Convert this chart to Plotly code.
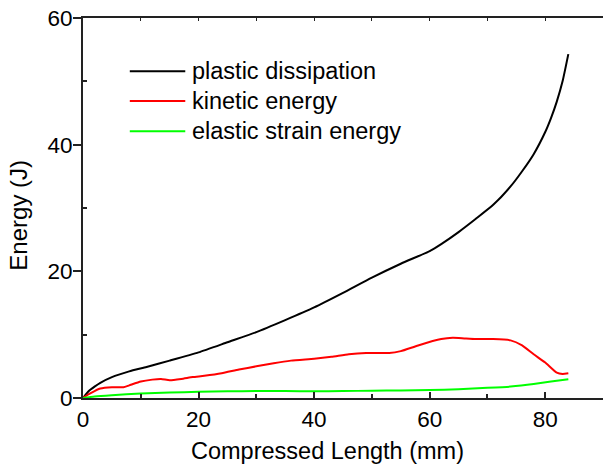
import plotly.graph_objects as go

# ---- data ----
plastic_x = [0, 1, 2, 3, 5, 8, 11, 15, 20, 25, 30, 35, 40, 45, 50, 55, 60, 62, 65, 68, 71, 74, 76, 78, 80, 81, 82, 83, 84]
plastic_y = [0, 1.1, 1.8, 2.4, 3.3, 4.2, 4.9, 5.9, 7.2, 8.8, 10.4, 12.3, 14.3, 16.6, 19.0, 21.2, 23.2, 24.3, 26.2, 28.3, 30.5, 33.4, 35.8, 38.5, 42.0, 44.2, 46.8, 50.0, 54.3]

kinetic_x = [0, 1, 2, 3, 5, 7, 8, 10, 12, 13.5, 15, 17, 19, 21, 24, 27, 30, 33, 36, 40, 43, 46, 49, 53, 55, 58, 62, 64, 66, 68, 71, 74, 76, 78, 80, 82, 83, 84]
kinetic_y = [0, 0.6, 1.1, 1.5, 1.7, 1.7, 2.0, 2.6, 2.9, 3.0, 2.8, 3.0, 3.3, 3.5, 3.9, 4.5, 5.0, 5.5, 5.9, 6.2, 6.5, 6.9, 7.1, 7.1, 7.4, 8.3, 9.3, 9.5, 9.4, 9.3, 9.3, 9.1, 8.3, 6.9, 5.6, 4.0, 3.8, 3.9]

elastic_x = [0, 2, 5, 10, 15, 20, 25, 30, 35, 40, 45, 50, 55, 60, 65, 70, 74, 78, 81, 84]
elastic_y = [0, 0.25, 0.45, 0.7, 0.85, 1.0, 1.05, 1.1, 1.1, 1.05, 1.1, 1.15, 1.2, 1.25, 1.4, 1.6, 1.8, 2.2, 2.6, 2.95]

series_names = ["plastic dissipation", "kinetic energy", "elastic strain energy"]
series_colors = ["#000000", "#ff0000", "#00ff00"]

x_title = "Compressed Length (mm)"
y_title = "Energy (J)"
x_ticks = [0, 20, 40, 60, 80]
y_ticks = [0, 20, 40, 60]
top_ticks = [0, 10, 20, 30, 40, 50, 60, 70, 80, 90]

FONT = "Liberation Sans, Arial, sans-serif"
AX = "#222222"

fig = go.Figure()
axes_for = ["x", "x", "x2"]
for xs, ys, name, col, xa in zip([plastic_x, kinetic_x, elastic_x],
                                 [plastic_y, kinetic_y, elastic_y],
                                 series_names, series_colors, axes_for):
    fig.add_trace(go.Scatter(x=xs, y=ys, mode="lines", name=name, xaxis=xa, yaxis="y",
                             line=dict(color=col, width=2, shape="spline", smoothing=0.5),
                             showlegend=False, hoverinfo="skip"))

# manual legend (long line samples like the reference)
leg_y = [51.6, 46.9, 42.1]
for name, col, ly in zip(series_names, series_colors, leg_y):
    fig.add_shape(type="line", xref="x", yref="y", x0=8.1, x1=17.7, y0=ly, y1=ly,
                  line=dict(color=col, width=2))
    fig.add_annotation(x=18.6, y=ly, xref="x", yref="y", text=name, showarrow=False,
                       xanchor="left", yanchor="middle",
                       font=dict(family=FONT, size=23.5, color="black"))

# axis titles
fig.add_annotation(x=0.471, y=-0.139, xref="paper", yref="paper", text=x_title,
                   showarrow=False, xanchor="center", yanchor="middle",
                   font=dict(family=FONT, size=23.5, color="black"))
fig.add_annotation(x=-0.123, y=0.48, xref="paper", yref="paper", text=y_title,
                   showarrow=False, xanchor="center", yanchor="middle", textangle=-90,
                   font=dict(family=FONT, size=24, color="black"))

fig.update_layout(
    width=603, height=466,
    margin=dict(l=83, r=0, t=18, b=68, autoexpand=False),
    paper_bgcolor="white", plot_bgcolor="white",
    font=dict(family=FONT, size=22, color="black"),
    xaxis=dict(range=[0, 90], tickvals=x_ticks, ticks="inside", ticklen=6, tickwidth=1.5,
               tickcolor=AX, showline=True, linecolor=AX, linewidth=2, showgrid=False,
               zeroline=False, tickfont=dict(size=22.5), automargin=False,
               minor=dict(tickvals=[10, 30, 50, 70], ticks="inside", ticklen=4,
                          tickcolor=AX, tickwidth=1.5)),
    xaxis2=dict(range=[0, 90], overlaying="x", side="top", anchor="y",
                tickvals=top_ticks, ticks="inside", ticklen=3, tickwidth=1.2, tickcolor=AX,
                showticklabels=False, showline=True, linecolor=AX, linewidth=2,
                showgrid=False, zeroline=False, automargin=False),
    yaxis=dict(range=[0, 60], tickvals=y_ticks, ticks="outside", ticklen=8, tickwidth=1.5,
               tickcolor=AX, showline=True, linecolor=AX, linewidth=2, showgrid=False,
               zeroline=False, tickfont=dict(size=22.5), automargin=False,
               ticklabelstandoff=-4,
               minor=dict(tickvals=[10, 30, 50], ticks="inside", ticklen=4,
                          tickcolor=AX, tickwidth=1.5)),
)

fig.write_html("out.html", config={"displayModeBar": False},
               post_script="document.body.style.margin='0';document.body.style.overflow='hidden';")
